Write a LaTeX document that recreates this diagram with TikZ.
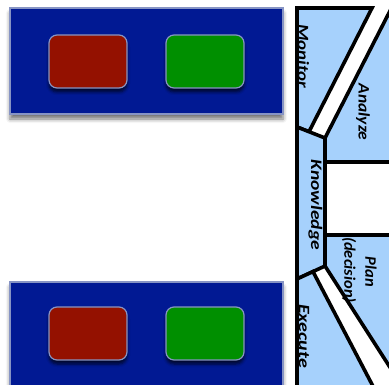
\documentclass[tikz,border=0pt]{standalone}
\usepackage{fontspec}
\setmainfont{Carlito}
\usetikzlibrary{shadows.blur}

\definecolor{panelblue}{HTML}{011993}
\definecolor{panelrim}{HTML}{8794C4}
\definecolor{boxred}{HTML}{941100}
\definecolor{boxgreen}{HTML}{008F00}
\definecolor{phasefill}{HTML}{A6D1FC}

\tikzset{
  panel/.style={draw=panelrim, line width=1.2pt, fill=panelblue,
    minimum width=273pt, minimum height=106pt, inner sep=0pt,
    blur shadow={shadow xshift=0pt, shadow yshift=-5pt,
      shadow blur radius=4pt, shadow opacity=55}},
  lamp/.style={draw=panelrim, line width=1.2pt, rounded corners=8pt,
    minimum width=78pt, minimum height=53pt, inner sep=0pt,
    blur shadow={shadow xshift=0pt, shadow yshift=-4pt,
      shadow blur radius=3pt, shadow opacity=70}},
  phase/.style={draw=black, line width=3.6pt, fill=phasefill},
  phase label/.style={rotate=-90, inner sep=0pt,
    font=\bfseries\itshape\fontsize{16}{17}\selectfont}
}

\begin{document}
\begin{tikzpicture}[x=1pt,y=-1pt]

\useasboundingbox (0,0) rectangle (389,385);
\clip (0,0) rectangle (389,385);

%%%%%%%%%%%%%%%%%%%%%%%%%%%%%%%%%%%%%%%%%%%%%%%%%%%%%%%%%%%%%%
% TOP PANEL
%%%%%%%%%%%%%%%%%%%%%%%%%%%%%%%%%%%%%%%%%%%%%%%%%%%%%%%%%%%%%%

\node[panel](toppanel) at (146.5,61) {};

\node[lamp, fill=boxred](topred)
at ([xshift=-58.5pt,yshift=-0.5pt]toppanel.center) {};

\node[lamp, fill=boxgreen](topgreen)
at ([xshift=58.5pt,yshift=-0.5pt]toppanel.center) {};

%%%%%%%%%%%%%%%%%%%%%%%%%%%%%%%%%%%%%%%%%%%%%%%%%%%%%%%%%%%%%%
% BOTTOM PANEL
%%%%%%%%%%%%%%%%%%%%%%%%%%%%%%%%%%%%%%%%%%%%%%%%%%%%%%%%%%%%%%

\node[panel, minimum height=118pt](botpanel) at (146.5,341) {};

\node[lamp, fill=boxred](botred)
at ([xshift=-58.5pt,yshift=7.5pt]botpanel.center) {};

\node[lamp, fill=boxgreen](botgreen)
at ([xshift=58.5pt,yshift=7.5pt]botpanel.center) {};

%%%%%%%%%%%%%%%%%%%%%%%%%%%%%%%%%%%%%%%%%%%%%%%%%%%%%%%%%%%%%%
% MAPE-K LOOP
%%%%%%%%%%%%%%%%%%%%%%%%%%%%%%%%%%%%%%%%%%%%%%%%%%%%%%%%%%%%%%

% monitor
\draw[phase] (297,8) -- (372,8) -- (309,131.7) -- (297,127) -- cycle;
% analyze
\draw[phase] (325,138) -- (393,5) -- (393,162) -- (325,162) -- cycle;
% knowledge
\draw[phase] (297,127) -- (325,138) -- (325,266) -- (297,279) -- cycle;
% plan
\draw[phase] (325,235) -- (393,235) -- (393,372) -- (325,266) -- cycle;
% execute
\draw[phase] (297,279) -- (313,271.6) -- (376,392) -- (297,392) -- cycle;

\node[phase label](monitor) at (303.5,56) {\scalebox{1.18}[1]{Monitor}};
\node[phase label](analyze) at (363,112) {\scalebox{1.09}[1]{Analyze}};
\node[phase label](knowledge) at (315.5,205) {\scalebox{1.22}[1]{Knowledge}};
\node[phase label](plan) at (371,272) {\scalebox{1.03}[1]{Plan}};
\node[phase label](decision) at (349,270) {\scalebox{1.03}[1]{(decision)}};
\node[phase label](execute) at (304,336) {\scalebox{1.25}[1]{Execute}};

\end{tikzpicture}
\end{document}
